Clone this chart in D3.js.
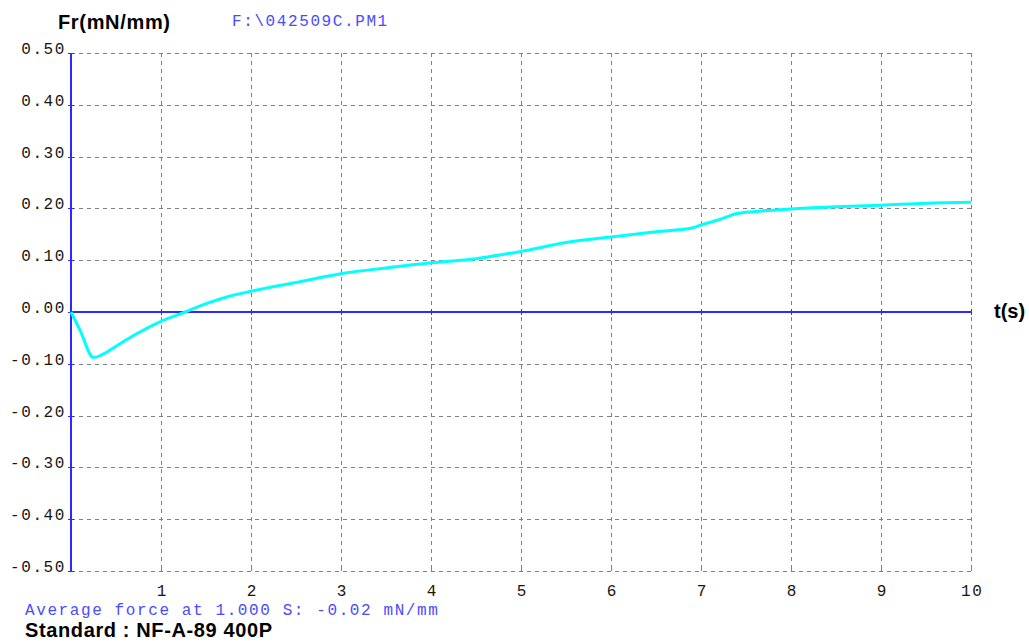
<!DOCTYPE html>
<html>
<head>
<meta charset="utf-8">
<script src="https://cdn.jsdelivr.net/npm/d3@7"></script>
<style>
  body { margin: 0; background: #fff; }
  .mono { font-family: "Liberation Mono", "Courier New", monospace; font-size: 16px; letter-spacing: 1.6px; }
  .bold { font-family: "Liberation Sans", Arial, sans-serif; font-weight: bold; font-size: 20px; fill: #000; }
</style>
</head>
<body>
<svg id="chart"></svg>
<script>
// force curve
const timeS = [0, 0.1, 0.25, 0.35, 0.5, 0.7, 1.0, 1.27, 1.5, 1.75, 2.0, 2.5, 3.0, 3.5, 4.0, 4.5, 5.0, 5.5, 6.0, 6.5, 6.9, 7.0, 7.2, 7.4, 7.6, 8.0, 8.5, 9.0, 9.5, 10.0];
const forceFr = [0, -0.035, -0.088, -0.082, -0.066, -0.045, -0.018, 0.0, 0.016, 0.03, 0.04, 0.057, 0.074, 0.085, 0.095, 0.103, 0.117, 0.134, 0.145, 0.155, 0.162, 0.168, 0.178, 0.19, 0.194, 0.199, 0.203, 0.206, 0.21, 0.212];

const xTicks = [1, 2, 3, 4, 5, 6, 7, 8, 9, 10];
const yTicks = [0.5, 0.4, 0.3, 0.2, 0.1, 0, -0.1, -0.2, -0.3, -0.4, -0.5];

const yTitle = "Fr(mN/mm)";
const xTitle = "t(s)";
const fileName = "F:\\042509C.PM1";
const avgNote = "Average force at 1.000 S: -0.02 mN/mm";
const standardNote = "Standard : NF-A-89 400P";

const width = 1029, height = 643;
const blue = "#2b2bff";
const textBlue = "#4a4aff";
const labelColor = "#1a1410";

const svg = d3.select("#chart").attr("width", width).attr("height", height);

const x = d3.scaleLinear().domain([0, 10]).range([71, 971]);
const y = d3.scaleLinear().domain([-0.5, 0.5]).range([571, 53]);

// grid
const grid = svg.append("g")
    .attr("stroke", "#808080")
    .attr("stroke-dasharray", "4,4")
    .attr("shape-rendering", "crispEdges");
grid.selectAll(".vg").data(xTicks).join("line")
    .attr("x1", d => x(d) + 0.5).attr("x2", d => x(d) + 0.5)
    .attr("y1", y(0.5)).attr("y2", y(-0.5));
grid.selectAll(".hg").data(yTicks.filter(d => d !== 0)).join("line")
    .attr("x1", x(0)).attr("x2", x(10))
    .attr("y1", d => y(d) + 0.5).attr("y2", d => y(d) + 0.5);

// small ticks on bottom line
svg.append("g").attr("stroke", "#808080").attr("shape-rendering", "crispEdges")
    .selectAll("line").data(xTicks).join("line")
    .attr("x1", d => x(d) + 0.5).attr("x2", d => x(d) + 0.5)
    .attr("y1", y(-0.5) - 4).attr("y2", y(-0.5));

// zero line and y axis
svg.append("line")
    .attr("x1", x(0)).attr("x2", x(10)).attr("y1", y(0)).attr("y2", y(0))
    .attr("stroke", blue).attr("stroke-width", 1.5).attr("shape-rendering", "crispEdges");
svg.append("g").attr("stroke", blue).attr("shape-rendering", "crispEdges")
    .selectAll("line").data(xTicks).join("line")
    .attr("x1", d => x(d) + 0.5).attr("x2", d => x(d) + 0.5)
    .attr("y1", y(0) - 3).attr("y2", y(0) + 3);

svg.append("line")
    .attr("x1", x(0)).attr("x2", x(0)).attr("y1", y(0.5)).attr("y2", y(-0.5) + 1)
    .attr("stroke", blue).attr("stroke-width", 2);
svg.append("g").attr("stroke", blue).attr("shape-rendering", "crispEdges")
    .selectAll("line").data(yTicks).join("line")
    .attr("x1", x(0) - 3).attr("x2", x(0) + 3)
    .attr("y1", d => y(d) + 0.5).attr("y2", d => y(d) + 0.5);

// y tick labels
svg.append("g").selectAll("text").data(yTicks).join("text")
    .attr("class", "mono")
    .attr("x", 66)
    .attr("y", d => y(d) + 1)
    .attr("text-anchor", "end")
    .attr("fill", labelColor)
    .text(d => d.toFixed(2));

// x tick labels
svg.append("g").selectAll("text").data(xTicks).join("text")
    .attr("class", "mono")
    .attr("x", d => x(d) + 1.3)
    .attr("y", 596)
    .attr("text-anchor", "middle")
    .attr("fill", labelColor)
    .text(d => d);

// curve
const line = d3.line().x((d, i) => x(timeS[i])).y(d => y(d)).curve(d3.curveMonotoneX);
svg.append("path")
    .datum(forceFr)
    .attr("d", line)
    .attr("fill", "none")
    .attr("stroke", "#00ffff")
    .attr("stroke-width", 3)
    .attr("stroke-linejoin", "round");

// titles
svg.append("text").attr("class", "bold").attr("x", 58).attr("y", 29).attr("textLength", 112).text(yTitle);
svg.append("text").attr("class", "mono").attr("x", 232).attr("y", 26).attr("fill", textBlue).text(fileName);
svg.append("text").attr("class", "bold").attr("x", 994).attr("y", 318).text(xTitle);
svg.append("text").attr("class", "mono").attr("x", 25).attr("y", 615).attr("fill", textBlue).text(avgNote);
svg.append("text").attr("class", "bold").attr("x", 25).attr("y", 637).attr("textLength", 247).text(standardNote);
</script>
</body>
</html>
